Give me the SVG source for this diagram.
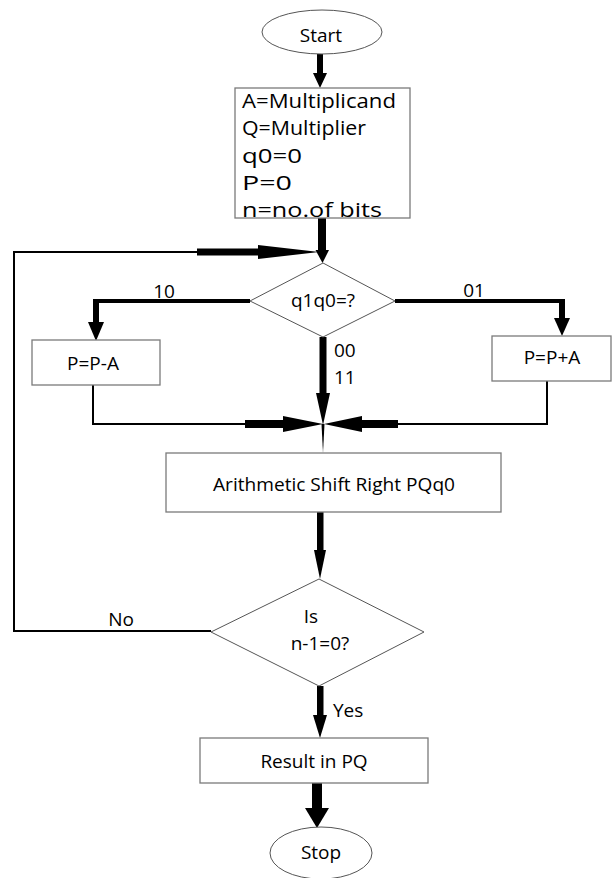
<svg xmlns="http://www.w3.org/2000/svg" width="612" height="878" viewBox="0 0 612 878">
  <style>
    .shape { fill: #ffffff; stroke: #7a7a7a; stroke-width: 1.3; }
    .dia { fill: #ffffff; stroke: #555555; stroke-width: 1; }
    .lbl { font-family: "Open Sans", "Liberation Sans", sans-serif; font-size: 19px; fill: #000000; }
    .big { font-size: 20.5px; }
    .mid { text-anchor: middle; }
    .thin { fill: none; stroke: #000000; stroke-width: 2; }
    .bold { fill: none; stroke: #000000; stroke-width: 4; }
    .solid { fill: #000000; stroke: none; }
  </style>

  <rect width="612" height="878" fill="#ffffff"/>

  <!-- connectors -->
  <g id="connectors">
    <!-- Start -> init -->
    <rect class="solid" x="317" y="54" width="6" height="19"/>
    <polygon class="solid" points="313,73 327,73 320,88"/>
    <!-- init -> q1q0 -->
    <rect class="solid" x="318" y="218" width="8" height="32"/>
    <polygon class="solid" points="315.5,250 329,250 322.5,263"/>
    <!-- loop back from "No" -->
    <polyline class="thin" points="211,631 14,631 14,252 198,252"/>
    <rect class="solid" x="197" y="248.5" width="61" height="7"/>
    <polygon class="solid" points="258,245 258,259 319,252"/>
    <!-- 10 branch -->
    <polyline class="bold" points="250,301 96,301 96,303"/>
    <rect class="solid" x="93" y="299" width="6" height="23"/>
    <polygon class="solid" points="88,322 104,322 96,341"/>
    <!-- 01 branch -->
    <polyline class="bold" points="395,301 562,301 562,303"/>
    <rect class="solid" x="559" y="299" width="6" height="19"/>
    <polygon class="solid" points="554,318 570,318 562,336"/>
    <!-- 00 / 11 branch -->
    <rect class="solid" x="319.5" y="337" width="7" height="57"/>
    <polygon class="solid" points="316,393 330,393 323,425"/>
    <!-- P=P-A -> merge -->
    <polyline class="thin" points="93,385 93,424 246,424"/>
    <rect class="solid" x="245" y="420" width="38" height="8"/>
    <polygon class="solid" points="283,416 283,432 323,424"/>
    <!-- P=P+A -> merge -->
    <polyline class="thin" points="547,381 547,424 397,424"/>
    <rect class="solid" x="362" y="420" width="36" height="8"/>
    <polygon class="solid" points="362,416 362,432 324,424"/>
    <!-- merge -> shift -->
    <polygon class="solid" points="321.5,424 324.5,424 323,453"/>
    <!-- shift -> test -->
    <rect class="solid" x="317" y="512" width="6.5" height="39"/>
    <polygon class="solid" points="314,550 326,550 320,579"/>
    <!-- Yes -->
    <rect class="solid" x="317" y="686" width="6.5" height="30"/>
    <polygon class="solid" points="313,715 327,715 320,738"/>
    <!-- Result -> Stop -->
    <rect class="solid" x="312" y="783" width="10" height="26"/>
    <polygon class="solid" points="305,808 329,808 317,828"/>

    <text class="lbl mid" x="164" y="298">10</text>
    <text class="lbl mid" x="474" y="297">01</text>
    <text class="lbl" x="334" y="357">00</text>
    <text class="lbl" x="334" y="384">11</text>
    <text class="lbl mid" x="121" y="626">No</text>
    <text class="lbl" x="333" y="717">Yes</text>
  </g>

  <g id="start">
    <ellipse class="dia" cx="322" cy="32" rx="60" ry="22"/>
    <text class="lbl mid" x="321" y="42">Start</text>
  </g>

  <g id="init">
    <rect class="shape" x="235" y="88" width="175" height="130"/>
    <text class="lbl big" x="242" y="108" textLength="154" lengthAdjust="spacingAndGlyphs">A=Multiplicand</text>
    <text class="lbl big" x="242" y="135" textLength="124" lengthAdjust="spacingAndGlyphs">Q=Multiplier</text>
    <text class="lbl big" x="242" y="163" textLength="60" lengthAdjust="spacingAndGlyphs">q0=0</text>
    <text class="lbl big" x="242" y="190" textLength="50" lengthAdjust="spacingAndGlyphs">P=0</text>
    <text class="lbl big" x="242" y="217" textLength="140" lengthAdjust="spacingAndGlyphs">n=no.of bits</text>
  </g>

  <g id="check-bits">
    <polygon class="dia" points="323,263 395,301 323,337 250,301"/>
    <text class="lbl mid" x="323" y="307">q1q0=?</text>
  </g>

  <g id="subtract">
    <rect class="shape" x="32" y="340" width="128" height="45"/>
    <text class="lbl mid" x="93" y="370">P=P-A</text>
  </g>

  <g id="add">
    <rect class="shape" x="492" y="336" width="119" height="45"/>
    <text class="lbl mid" x="552" y="364">P=P+A</text>
  </g>

  <g id="shift">
    <rect class="shape" x="166" y="453" width="335" height="59"/>
    <text class="lbl" x="213" y="491" textLength="242" lengthAdjust="spacingAndGlyphs">Arithmetic Shift Right PQq0</text>
  </g>

  <g id="check-count">
    <polygon class="dia" points="319,579 424,632 319,686 211,632"/>
    <text class="lbl mid" x="311" y="623">Is</text>
    <text class="lbl mid" x="320" y="650">n-1=0?</text>
  </g>

  <g id="result">
    <rect class="shape" x="200" y="738" width="228" height="45"/>
    <text class="lbl mid" x="314" y="768">Result in PQ</text>
  </g>

  <g id="stop">
    <ellipse class="dia" cx="321" cy="853" rx="51" ry="26"/>
    <text class="lbl mid" x="321" y="859">Stop</text>
  </g>
</svg>
